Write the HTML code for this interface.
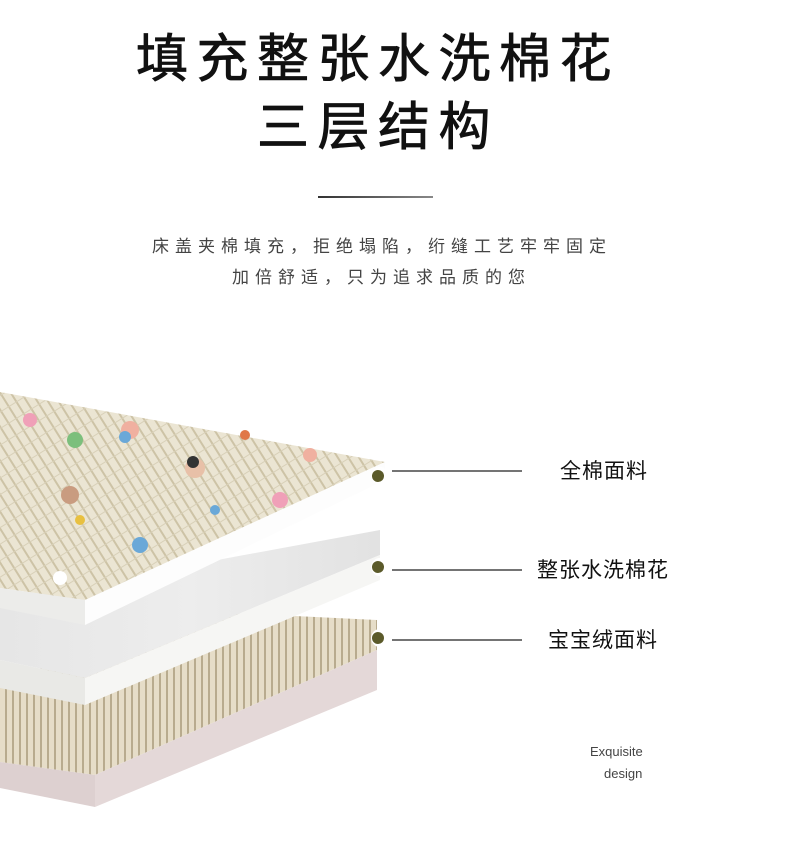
<!DOCTYPE html>
<html><head><meta charset="utf-8"><style>
html,body{margin:0;padding:0;background:#fff;}
body{width:790px;height:845px;position:relative;overflow:hidden;font-family:"Liberation Sans","Noto Sans CJK SC",sans-serif;}
.t{position:absolute;white-space:nowrap;}
.title{font-size:52px;letter-spacing:8.5px;color:#111;line-height:1;font-weight:normal;-webkit-text-stroke:0.8px #111;}
.sub{font-size:17px;letter-spacing:6px;color:#444;line-height:1;}
.lab{font-size:21px;color:#111;line-height:1;letter-spacing:1px;}
</style></head><body>
<div class="t title" style="left:136px;top:34px;">填充整张水洗棉花</div>
<div class="t title" style="left:257px;top:102px;">三层结构</div>
<div style="position:absolute;left:318px;top:196px;width:115px;height:2px;background:linear-gradient(90deg,#333,#888);"></div>
<div class="t sub" style="left:152px;top:238px;">床盖夹棉填充，拒绝塌陷，绗缝工艺牢牢固定</div>
<div class="t sub" style="left:232px;top:269px;">加倍舒适，只为追求品质的您</div>

<svg style="position:absolute;left:0;top:0" width="790" height="845">
<defs>
<pattern id="st" width="9" height="14" patternUnits="userSpaceOnUse" patternTransform="rotate(-32)">
<rect width="9" height="14" fill="#ebe5d3"/><rect x="7" width="2" height="14" fill="#cdc3a6"/><rect y="13" width="9" height="1" fill="#d8d0b8"/></pattern>
<pattern id="st2" width="7" height="40" patternUnits="userSpaceOnUse">
<rect width="7" height="40" fill="#e6ddc8"/><rect x="5" width="2" height="40" fill="#b8ab8e"/></pattern>
<linearGradient id="cot" x1="0" y1="0" x2="1" y2="0"><stop offset="0" stop-color="#e6e6e6"/><stop offset=".5" stop-color="#ededed"/><stop offset="1" stop-color="#e2e2e2"/></linearGradient>
</defs>
<polygon points="0,680 233,613 377,620 377,650 95,775 0,762" fill="url(#st2)"/>
<polygon points="0,762 95,775 95,807 0,788" fill="#ddd0d0"/>
<polygon points="95,775 377,650 377,690 95,807" fill="#e4d8d8"/>
<polygon points="0,600 380,530 380,555 85,678 0,660" fill="url(#cot)"/>
<polygon points="0,660 85,678 85,705 0,688" fill="#e9e9e6"/>
<polygon points="85,678 380,555 380,580 85,705" fill="#f6f6f4"/>
<polygon points="0,392 385,462 85,600 0,588" fill="url(#st)"/>
<polygon points="0,588 85,600 85,625 0,608" fill="#ececea"/>
<polygon points="85,600 385,462 385,480 85,625" fill="#fdfdfd"/>
<g>
<circle cx="130" cy="430" r="9" fill="#f0b0a0"/><circle cx="125" cy="437" r="6" fill="#6aa8d8"/>
<circle cx="195" cy="468" r="10" fill="#e8c0a8"/><circle cx="193" cy="462" r="6" fill="#333"/>
<circle cx="70" cy="495" r="9" fill="#c99c80"/><circle cx="140" cy="545" r="8" fill="#6aa8d8"/>
<circle cx="280" cy="500" r="8" fill="#f0a0b8"/><circle cx="30" cy="420" r="7" fill="#f0a0b8"/>
<circle cx="60" cy="578" r="7" fill="#fff"/><circle cx="215" cy="510" r="5" fill="#6aa8d8"/>
<circle cx="310" cy="455" r="7" fill="#f0b0a0"/><circle cx="245" cy="435" r="5" fill="#e07848"/>
<circle cx="75" cy="440" r="8" fill="#7cbf7c"/><circle cx="80" cy="520" r="5" fill="#e8c040"/>
</g>
<circle cx="380" cy="476" r="9" fill="#fff"/><circle cx="378" cy="476" r="6" fill="#5b5a2a"/>
<circle cx="380" cy="567" r="9" fill="#fff"/><circle cx="378" cy="567" r="6" fill="#5b5a2a"/>
<circle cx="380" cy="638" r="9" fill="#fff"/><circle cx="378" cy="638" r="6" fill="#5b5a2a"/>
<line x1="392" y1="471" x2="522" y2="471" stroke="#222" stroke-width="1.2"/>
<line x1="392" y1="570" x2="522" y2="570" stroke="#222" stroke-width="1.2"/>
<line x1="392" y1="640" x2="522" y2="640" stroke="#222" stroke-width="1.2"/>
</svg>
<div class="t lab" style="left:560px;top:461px;">全棉面料</div>
<div class="t lab" style="left:537px;top:560px;">整张水洗棉花</div>
<div class="t lab" style="left:548px;top:630px;">宝宝绒面料</div>
<div class="t" style="left:590px;top:744px;font-size:13px;color:#444;">Exquisite</div>
<div class="t" style="left:604px;top:766px;font-size:13px;color:#444;">design</div>
</body></html>
